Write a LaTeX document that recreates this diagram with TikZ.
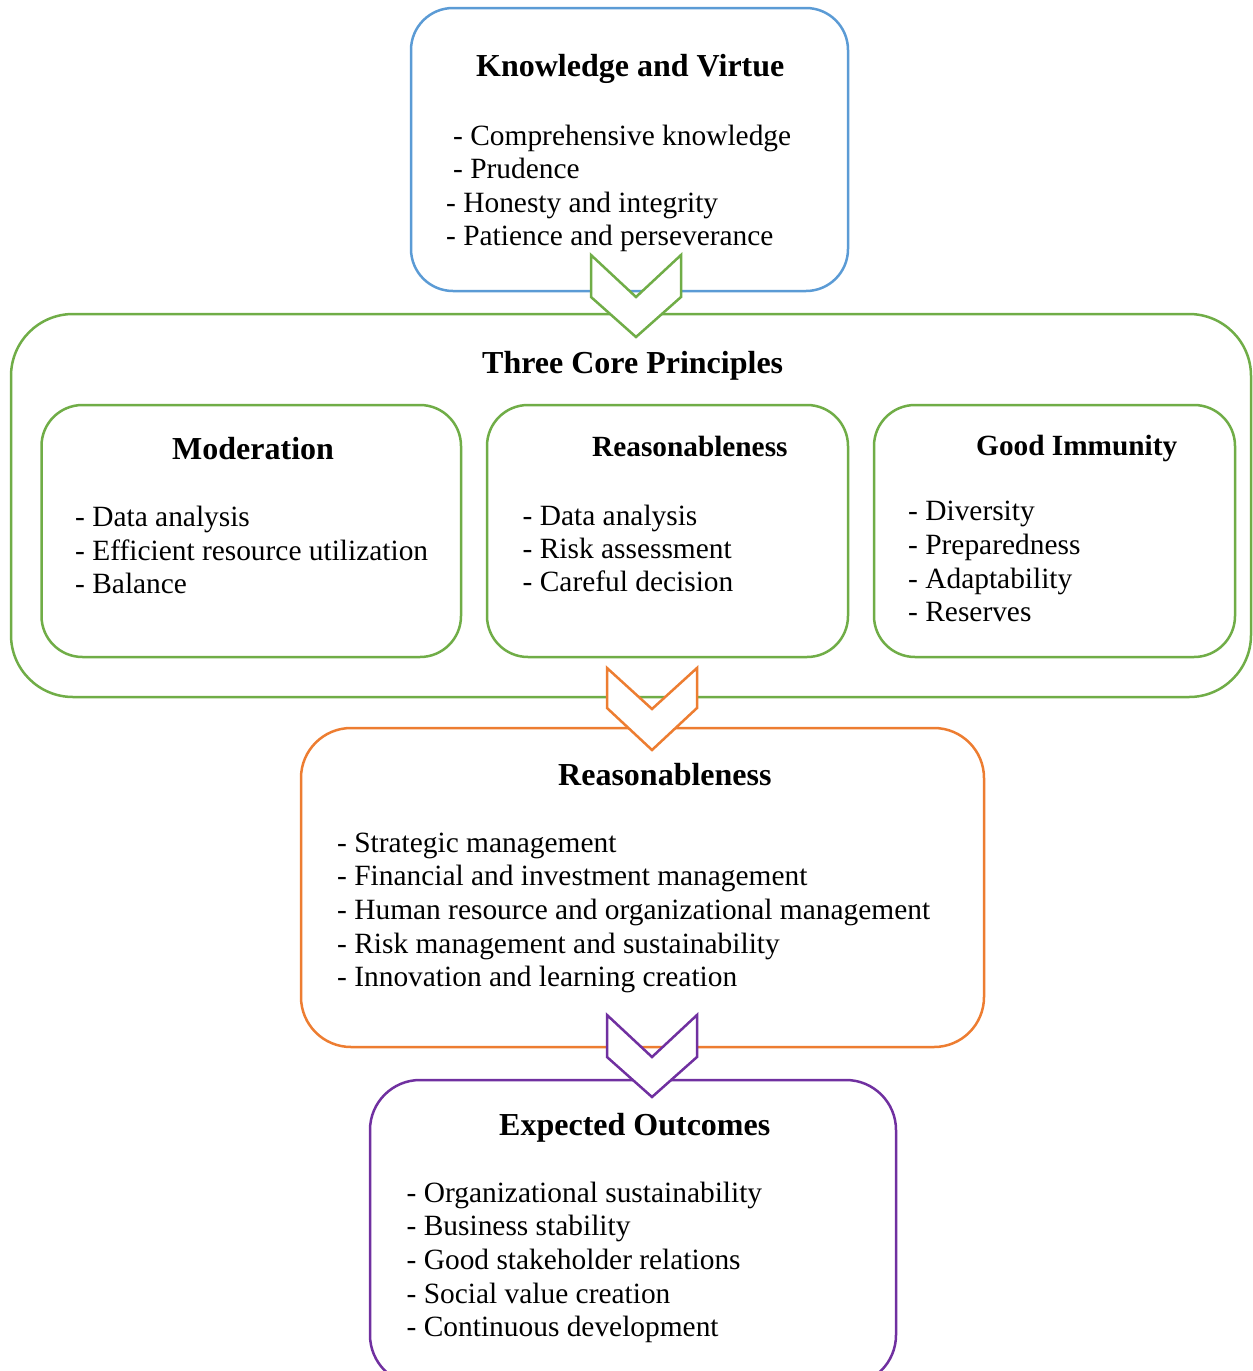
\documentclass[tikz,border=0pt]{standalone}
\usepackage{fontspec}
\setmainfont{Liberation Serif}
\definecolor{cblue}{HTML}{5B9BD5}
\definecolor{cgreen}{HTML}{70AD47}
\definecolor{corange}{HTML}{ED7D31}
\definecolor{cpurple}{HTML}{7030A0}
\begin{document}
\begin{tikzpicture}[x=1pt,y=-1pt,
  box/.style={draw, line width=2.5pt, rounded corners=#1, inner sep=0pt, fill=white},
  ttl/.style={anchor=base west, inner sep=0pt, font=\fontsize{32}{38}\selectfont\bfseries},
  ttls/.style={anchor=base west, inner sep=0pt, font=\fontsize{29.3}{35}\selectfont\bfseries},
  itm/.style={anchor=base west, inner sep=0pt, font=\fontsize{29.4}{33.7}\selectfont},
  chev/.style={line width=2.5pt, fill=white, line join=miter}]
\useasboundingbox (0,0) rectangle (1253,1371);
\clip (0,0) rectangle (1253,1371);
% boxes
\node[box=42pt, draw=cblue, minimum width=437pt, minimum height=283pt] (kv) at (629.5,149.5) {};
\node[box=62pt, draw=cgreen, minimum width=1240pt, minimum height=383pt] (tcp) at (631,505.5) {};
\node[box=41pt, draw=cgreen, minimum width=419.5pt, minimum height=252pt] (mod) at (251.25,531) {};
\node[box=41pt, draw=cgreen, minimum width=361pt, minimum height=252pt] (rea) at (667.5,531) {};
\node[box=41pt, draw=cgreen, minimum width=361pt, minimum height=252pt] (gi) at (1054.5,531) {};
\node[box=50pt, draw=corange, minimum width=683pt, minimum height=319pt] (rm) at (642.5,887.5) {};
\node[box=50pt, draw=cpurple, minimum width=526pt, minimum height=305pt] (eo) at (633,1232.5) {};
% titles
\node[ttl] (kvt) at (476,76.7) {Knowledge and Virtue};
\node[ttl] (tcpt) at (482,373.3) {Three Core Principles};
\node[ttl] (modt) at (172,459.3) {Moderation};
\node[ttls] (reat) at (592,456.7) {Reasonableness};
\node[ttls] (git) at (976,455) {Good Immunity};
\node[ttl] (rmt) at (558,785) {Reasonableness};
\node[ttl] (eot) at (499,1135) {Expected Outcomes};
% items
\node[itm] (kv0) at (453,145) {- Comprehensive knowledge};
\node[itm] (kv1) at (453,178.5) {- Prudence};
\node[itm] (kv2) at (446,212) {- Honesty and integrity};
\node[itm] (kv3) at (446,245.7) {- Patience and perseverance};
\foreach \t [count=\i from 0] in {Data analysis, Efficient resource utilization, Balance}
  \node[itm] (mod\i) at (75,{526.5+33.5*\i}) {- \t};
\foreach \t [count=\i from 0] in {Data analysis, Risk assessment, Careful decision}
  \node[itm] (rea\i) at (522.5,{525+33.4*\i}) {- \t};
\foreach \t [count=\i from 0] in {Diversity, Preparedness, Adaptability, Reserves}
  \node[itm] (gi\i) at (908,{520.5+33.8*\i}) {- \t};
\foreach \t [count=\i from 0] in {Strategic management, Financial and investment management, Human resource and organizational management, Risk management and sustainability, Innovation and learning creation}
  \node[itm] (rm\i) at (337,{852+33.7*\i}) {- \t};
\foreach \t [count=\i from 0] in {Organizational sustainability, Business stability, Good stakeholder relations, Social value creation, Continuous development}
  \node[itm] (eo\i) at (406.5,{1202+33.7*\i}) {- \t};
% chevron arrows between boxes
\coordinate (c1) at (636,255);
\coordinate (c2) at (652,668);
\coordinate (c3) at (652,1015);
\draw[chev, draw=cgreen] (c1) ++(-45,0) -- ++(0,42) -- ++(45,40) -- ++(45,-40) -- ++(0,-42) -- ++(-45,42) -- cycle;
\draw[chev, draw=corange] (c2) ++(-45,0) -- ++(0,40) -- ++(45,42) -- ++(45,-42) -- ++(0,-40) -- ++(-45,41) -- cycle;
\draw[chev, draw=cpurple] (c3) ++(-45,0) -- ++(0,42) -- ++(45,40) -- ++(45,-40) -- ++(0,-42) -- ++(-45,42) -- cycle;
\end{tikzpicture}
\end{document}
